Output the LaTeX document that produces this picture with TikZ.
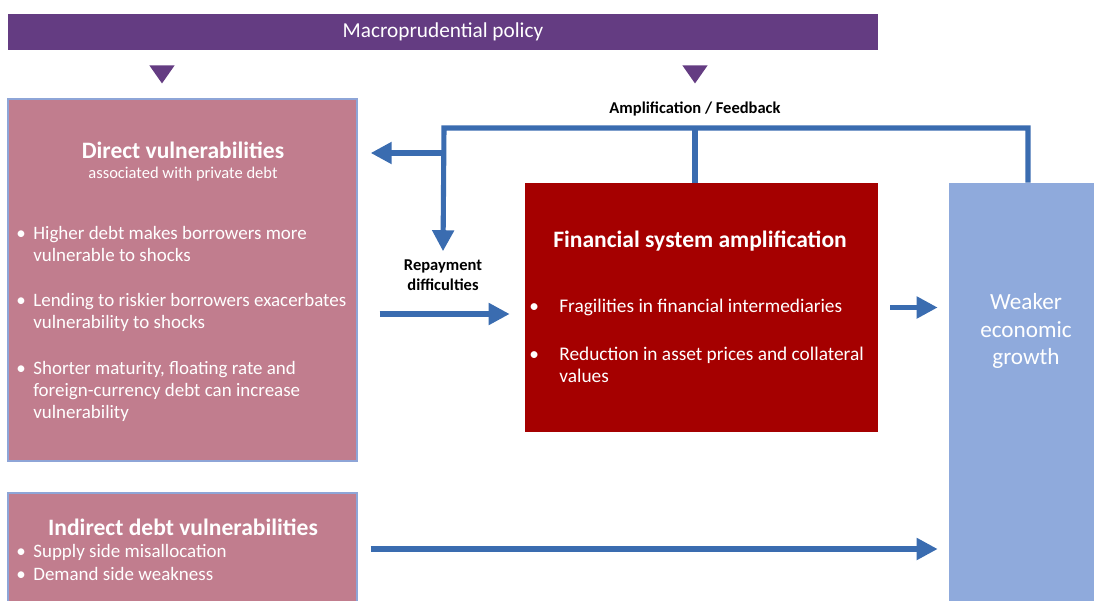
\documentclass[tikz,border=0pt]{standalone}
\usepackage{fontspec}
\setmainfont{Carlito}
\usetikzlibrary{arrows.meta,shapes.geometric}
\definecolor{policypurple}{RGB}{100,60,130}
\definecolor{vulnpink}{RGB}{193,125,142}
\definecolor{edgeblue}{RGB}{142,165,215}
\definecolor{ampred}{RGB}{165,0,0}
\definecolor{growthblue}{RGB}{143,170,220}
\definecolor{flowblue}{RGB}{58,108,176}

\begin{document}
\begin{tikzpicture}[
  x=0.02cm, y=-0.02cm,
  >={Triangle[length=0.42cm, width=0.42cm]},
  policybar/.style={rectangle, fill=policypurple, text=white, inner sep=0pt,
    minimum width=870*0.02cm, minimum height=36*0.02cm, font=\fontsize{12.1}{14}\selectfont},
  policytip/.style={isosceles triangle, isosceles triangle apex angle=70, shape border rotate=270,
    fill=policypurple, inner sep=0pt, minimum height=18*0.02cm},
  vulnbox/.style={rectangle, fill=vulnpink, draw=edgeblue, line width=0.8pt, inner sep=0pt},
  ampbox/.style={rectangle, fill=ampred, inner sep=0pt},
  growthbox/.style={rectangle, fill=growthblue, inner sep=0pt},
  boxtitle/.style={text=white, font=\bfseries\fontsize{13.4}{16}\selectfont, inner sep=0pt},
  boxitem/.style={text=white, anchor=base west, inner sep=0pt, font=\fontsize{10.8}{12.6}\selectfont},
  ampitem/.style={boxitem, font=\fontsize{11}{13}\selectfont},
  flowlabel/.style={text=black, font=\bfseries\fontsize{9.4}{11.4}\selectfont, align=center, inner sep=0pt},
  flow/.style={draw=flowblue, line width=2.9pt},
]
\useasboundingbox (0,0) rectangle (1094,601);

% ---- policy bar and its two pointers ----
\node[policybar] (policy) at (443,32) {Macroprudential policy};
\node[policytip] (tipleft)  at (162,72) {};
\node[policytip] (tipright) at (695,72) {};

% ---- boxes ----
\node[vulnbox, minimum width=349*0.02cm, minimum height=362*0.02cm] (direct) at (182.5,280) {};
\node[vulnbox, minimum width=349*0.02cm, minimum height=130*0.02cm] (indirect) at (182.5,558) {};
\node[ampbox, minimum width=353*0.02cm, minimum height=249*0.02cm] (amp) at (701.5,307.5) {};
\node[growthbox, minimum width=158*0.02cm, minimum height=440*0.02cm] (growth) at (1028,403) {};

% ---- direct vulnerabilities ----
\node[boxtitle] (directtitle) at (183,150) {Direct vulnerabilities};
\node[text=white, font=\fontsize{9.4}{11}\selectfont, inner sep=0pt] (directsub) at (183,174) {associated with private debt};
\node[boxitem] (dv1) at (16,239) {\makebox[0.34cm][l]{\textbullet}\begin{tabular}[t]{@{}l@{}}Higher debt makes borrowers more\\vulnerable to shocks\end{tabular}};
\node[boxitem] (dv2) at (16,306) {\makebox[0.34cm][l]{\textbullet}\begin{tabular}[t]{@{}l@{}}Lending to riskier borrowers exacerbates\\vulnerability to shocks\end{tabular}};
\node[boxitem] (dv3) at (16,374) {\makebox[0.34cm][l]{\textbullet}\begin{tabular}[t]{@{}l@{}}Shorter maturity, floating rate and\\foreign-currency debt can increase\\vulnerability\end{tabular}};

% ---- indirect vulnerabilities ----
\node[boxtitle] (indirecttitle) at (183,527) {Indirect debt vulnerabilities};
\node[boxitem] (iv1) at (16,557) {\makebox[0.34cm][l]{\textbullet}Supply side misallocation};
\node[boxitem] (iv2) at (16,580) {\makebox[0.34cm][l]{\textbullet}Demand side weakness};

% ---- financial system ----
\node[boxtitle] (amptitle) at (700,241) {Financial system amplification};
\node[ampitem] (fs1) at (529,312) {\makebox[0.6cm][l]{\textbullet}Fragilities in financial intermediaries};
\node[ampitem] (fs2) at (529,360) {\makebox[0.6cm][l]{\textbullet}\begin{tabular}[t]{@{}l@{}}Reduction in asset prices and collateral\\values\end{tabular}};

% ---- outcome ----
\node[text=white, align=center, inner sep=0pt, font=\fontsize{13.2}{15.9}\selectfont] (growthtext) at (1026,331) {Weaker\\economic\\growth};

% ---- labels ----
\node[flowlabel] (feedback) at (695,109) {Amplification / Feedback};
\node[flowlabel] (repay) at (443,275) {Repayment\\difficulties};

% ---- feedback loop ----
\coordinate (fbleft) at (444,128);
\coordinate (fbmid) at (695,128);
\coordinate (fbsplit) at (444,153);
\draw[flow, ->] (growth.north) |- (fbleft) -- ([yshift=8*0.02cm]repay.north);
\draw[flow] (fbmid) -- (fbmid |- amp.north);
\draw[flow, ->, shorten >=13*0.02cm] (fbsplit) -- (fbsplit -| direct.east);

% ---- forward arrows ----
\coordinate (repayrow) at (444,314);
\coordinate (indirectrow) at (444,549);
\draw[flow, ->, shorten <=22*0.02cm, shorten >=15*0.02cm] (repayrow -| direct.east) -- (repayrow -| amp.west);
\draw[flow, ->, shorten <=12*0.02cm, shorten >=11*0.02cm] (amp.east) -- (amp.east -| growth.west);
\draw[flow, ->, shorten <=13*0.02cm, shorten >=11*0.02cm] (indirectrow -| indirect.east) -- (indirectrow -| growth.west);

\end{tikzpicture}
\end{document}
